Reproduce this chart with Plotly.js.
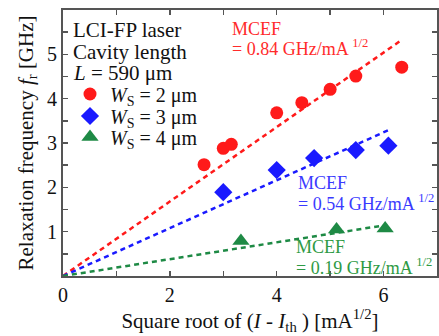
<!DOCTYPE html>
<html>
<head>
<meta charset="utf-8">
<script src="https://cdn.plot.ly/plotly-3.0.1.min.js"></script>
<style>
  html, body { margin: 0; padding: 0; background: #fff; }
  #chart { width: 439px; height: 336px; }
</style>
</head>
<body>
<div id="chart"></div>
<script>
// Relaxation frequency vs square root of (I - Ith) for three stripe widths
const x2um = [2.64, 3.0, 3.15, 4.0, 4.47, 5.0, 5.48, 6.34];
const y2um = [2.51, 2.88, 2.97, 3.68, 3.91, 4.21, 4.51, 4.71];
const x3um = [3.0, 4.0, 4.7, 5.48, 6.09];
const y3um = [1.89, 2.39, 2.66, 2.84, 2.94];
const x4um = [3.33, 5.12, 6.03];
const y4um = [0.79, 1.05, 1.07];

// Modulation current efficiency factors (slope of the fits) and fit extents
const mcef = [0.84, 0.54, 0.19];
const fitEnd = [6.3, 6.1, 6.0];
const seriesNames = ['<i>W</i><sub>S</sub> = 2 μm', '<i>W</i><sub>S</sub> = 3 μm', '<i>W</i><sub>S</sub> = 4 μm'];
const colors = ['#ff1a1a', '#1a1aff', '#1e8a45'];
const textColors = ['#ff2b2b', '#3a3aff', '#2e9a44'];

const xTicks = [0, 1, 2, 3, 4, 5, 6, 7];
const xTickText = ['0', '', '2', '', '4', '', '6', ''];
const yTicks = [0, 0.5, 1, 1.5, 2, 2.5, 3, 3.5, 4, 4.5, 5, 5.5, 6];
const yTickText = ['', '', '1', '', '2', '', '3', '', '4', '', '5', '', '6'];

const FONT = '"Liberation Serif", "Times New Roman", serif';

const fits = mcef.map((k, i) => ({
  x: [0, fitEnd[i]],
  y: [0, k * fitEnd[i]],
  mode: 'lines',
  line: { color: colors[i], width: 2.5, dash: '5px,4px' },
  showlegend: false,
  hoverinfo: 'skip'
}));

const pts = [
  { x: x2um, y: y2um, symbol: 'circle', size: 13, legend: 'legend' },
  { x: x3um, y: y3um, symbol: 'diamond', size: 14, legend: 'legend2' },
  { x: x4um, y: y4um, symbol: 'triangle-up', size: 15, legend: 'legend3' }
].map((p, i) => ({
  x: p.x, y: p.y,
  mode: 'markers',
  name: seriesNames[i],
  legend: p.legend,
  marker: { color: colors[i], symbol: p.symbol, size: p.size, line: { width: 0 } }
}));

const px = v => (v - 63) / 374;
const py = v => (276 - v) / 266;

function note(text, xp, yp, color, size) {
  return {
    text: text, xref: 'paper', yref: 'paper', x: px(xp), y: py(yp),
    xanchor: 'left', yanchor: 'middle', showarrow: false,
    font: { family: FONT, size: size, color: color }
  };
}

const annotations = [
  note('LCI-FP laser', 71, 30, '#111', 21),
  note('Cavity length', 71, 52, '#111', 21),
  note('<i>L</i> = 590 μm', 71, 73, '#111', 21),
  note('MCEF', 230, 29, textColors[0], 18),
  note('= 0.84 GHz/mA <sup>1/2</sup>', 230, 47, textColors[0], 18),
  note('MCEF', 296, 183, textColors[1], 18),
  note('= 0.54 GHz/mA <sup>1/2</sup>', 296, 202, textColors[1], 18),
  note('MCEF', 294, 247, textColors[2], 18),
  note('= 0.19 GHz/mA <sup>1/2</sup>', 294, 266, textColors[2], 18)
];

function legendAt(yp) {
  return {
    x: px(70), y: py(yp), xanchor: 'left', yanchor: 'middle',
    bgcolor: 'rgba(0,0,0,0)', borderwidth: 0,
    font: { family: FONT, size: 20, color: '#111' },
    itemwidth: 30
  };
}

const axisCommon = {
  showgrid: false, zeroline: false, automargin: false,
  showline: true, linecolor: '#555', linewidth: 2, mirror: 'ticks',
  ticks: 'inside', ticklen: 5, tickwidth: 1.5, tickcolor: '#555',
  tickmode: 'array',
  tickfont: { family: FONT, size: 20, color: '#111' }
};

const layout = {
  width: 439, height: 336,
  margin: { l: 63, r: 2, t: 10, b: 60 },
  paper_bgcolor: '#fff', plot_bgcolor: '#fff',
  xaxis: Object.assign({}, axisCommon, {
    range: [0, 7], tickvals: xTicks, ticktext: xTickText,
    title: { text: 'Square root of (<i>I</i> - <i>I</i><sub>th</sub> ) [mA<sup>1/2</sup>]',
             font: { family: FONT, size: 21, color: '#111' }, standoff: 6 }
  }),
  yaxis: Object.assign({}, axisCommon, {
    range: [0, 6], tickvals: yTicks, ticktext: yTickText,
    title: { text: 'Relaxation frequency <i>f</i><sub>r</sub> [GHz]',
             font: { family: FONT, size: 21, color: '#111' }, standoff: 8 }
  }),
  legend: legendAt(94),
  legend2: legendAt(116),
  legend3: legendAt(137),
  annotations: annotations
};

Plotly.newPlot('chart', fits.concat(pts), layout, { displayModeBar: false, staticPlot: true });
</script>
</body>
</html>
